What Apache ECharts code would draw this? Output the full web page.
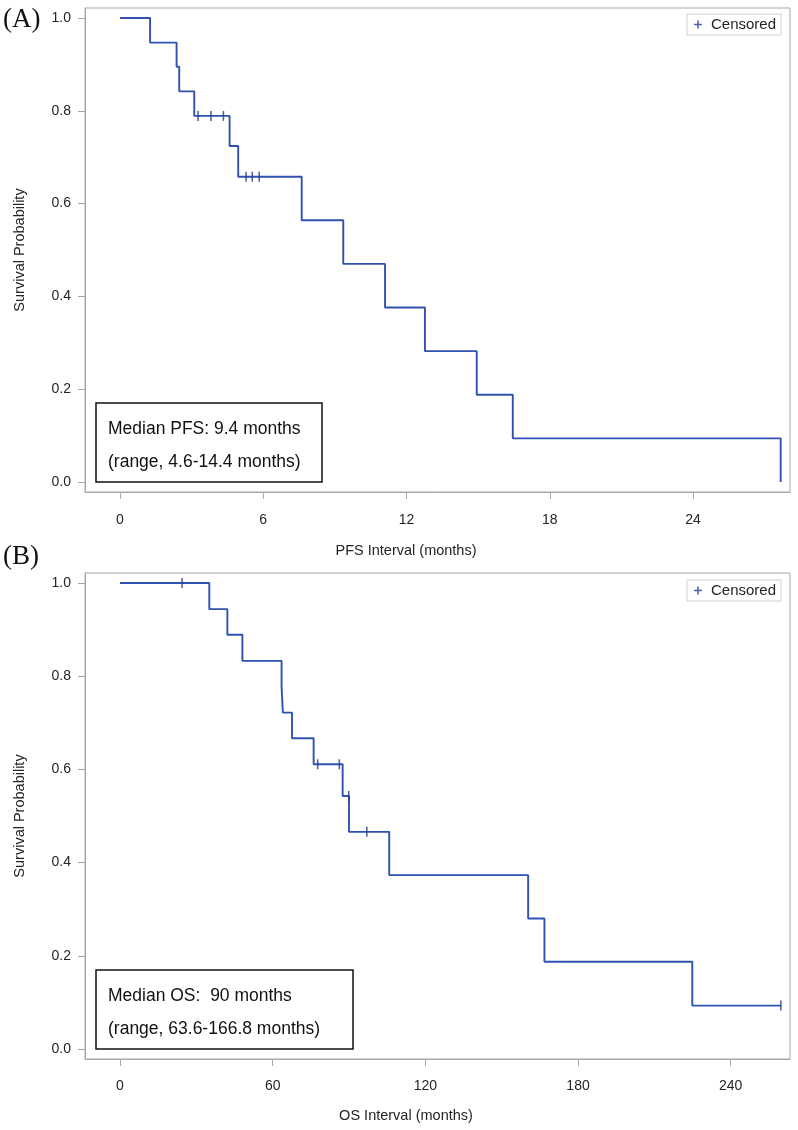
<!DOCTYPE html>
<html>
<head>
<meta charset="utf-8">
<script src="https://cdn.jsdelivr.net/npm/echarts@6/dist/echarts.min.js"></script>
<style>
html,body{margin:0;padding:0;background:#fff;}
#chart{width:798px;height:1130px;}
</style>
</head>
<body>
<div id="chart"></div>
<script>
// ---- Data ----
// Panel A: PFS
var pfsTimes = [0, 1.26, 2.37, 2.48, 3.11, 4.59, 4.95, 7.61, 9.35, 11.10, 12.77, 14.94, 16.45, 27.67];
var pfsSurv  = [1.0, 0.947, 0.895, 0.842, 0.789, 0.724, 0.658, 0.564, 0.470, 0.376, 0.282, 0.188, 0.094, 0.0];
var pfsCensorTimes = [3.27, 3.81, 4.33, 5.28, 5.54, 5.83];
var pfsCensorSurv  = [0.789, 0.789, 0.789, 0.658, 0.658, 0.658];
var pfsTicks = [0, 6, 12, 18, 24];

// Panel B: OS
var osTimes = [0, 35.1, 42.2, 48.1, 63.5, 64.0, 67.6, 76.1, 87.5, 90.0, 105.8, 160.4, 166.8, 224.9, 259.7];
var osSurv  = [1.0, 0.944, 0.889, 0.833, 0.778, 0.722, 0.667, 0.611, 0.543, 0.466, 0.373, 0.280, 0.187, 0.093, 0.093];
var osCensorTimes = [24.4, 77.7, 86.2, 89.9, 97.0, 259.7];
var osCensorSurv  = [1.0, 0.611, 0.611, 0.543, 0.466, 0.093];
var osTicks = [0, 60, 120, 180, 240];

var yTicks = [0, 0.2, 0.4, 0.6, 0.8, 1.0];

var pfsTitle = 'PFS Interval (months)';
var osTitle = 'OS Interval (months)';
var yTitle = 'Survival Probability';
var pfsNote = ['Median PFS: 9.4 months', '(range, 4.6-14.4 months)'];
var osNote = ['Median OS:  90 months', '(range, 63.6-166.8 months)'];
var legendName = 'Censored';

function pairs(xs, ys){ return xs.map(function(x,i){ return [x, ys[i]]; }); }

var LINE = '#2f51b1';
var CENS = '#22408f';
var FRAME = '#a9a9a9';
var TXT = '#252525';
var FONT = '"Liberation Sans", Arial, sans-serif';
var plusIcon = 'path://M4,0 H6 V4 H10 V6 H6 V10 H4 V6 H0 V4 H4 Z';

function xAxisCfg(grid, min, max, ticks, name, margin, gap){
  return {
    type:'value', gridIndex:grid, min:min, max:max,
    axisLine:{show:true, onZero:false, lineStyle:{color:FRAME, width:1}},
    axisTick:{show:true, inside:false, length:7, customValues:ticks, lineStyle:{color:FRAME}},
    axisLabel:{customValues:ticks, margin:margin, fontSize:14, color:TXT, fontFamily:FONT},
    splitLine:{show:false},
    name:name, nameLocation:'middle', nameGap:gap,
    nameTextStyle:{fontSize:14.5, color:TXT, fontFamily:FONT, padding:[0,63,0,0]}
  };
}
function yAxisCfg(grid){
  return {
    type:'value', gridIndex:grid, min:-0.0216, max:1.0216,
    axisLine:{show:true, onZero:false, lineStyle:{color:FRAME, width:1}},
    axisTick:{show:true, inside:false, length:7, customValues:yTicks, lineStyle:{color:FRAME}},
    axisLabel:{customValues:yTicks, margin:14, fontSize:14, color:TXT, fontFamily:FONT,
      formatter:function(v){ return v.toFixed(1); }},
    splitLine:{show:false},
    name:yTitle, nameLocation:'middle', nameGap:58, nameRotate:90,
    nameTextStyle:{fontSize:14.5, color:TXT, fontFamily:FONT}
  };
}

function noteBox(x, y, w, h, lines, y1, y2){
  return {
    type:'group', children:[
      {type:'rect', shape:{x:x, y:y, width:w, height:h}, style:{fill:'#fff', stroke:'#111', lineWidth:1.5}},
      {type:'text', x:108, y:y1, style:{text:lines[0], fontSize:17.5, fill:'#111', fontFamily:FONT, verticalAlign:'middle'}},
      {type:'text', x:108, y:y2, style:{text:lines[1], fontSize:17.5, fill:'#111', fontFamily:FONT, verticalAlign:'middle'}}
    ]
  };
}

var chart = echarts.init(document.getElementById('chart'), null, {renderer:'canvas'});
var option = {
  animation:false,
  backgroundColor:'#fff',
  grid:[
    {left:85, top:8, width:705, height:484, show:true, borderColor:FRAME, borderWidth:1, backgroundColor:'transparent'},
    {left:85, top:573, width:705, height:486, show:true, borderColor:FRAME, borderWidth:1, backgroundColor:'transparent'}
  ],
  xAxis:[
    xAxisCfg(0, -1.466, 28.06, pfsTicks, pfsTitle, 21, 51),
    xAxisCfg(1, -13.75, 263.3, osTicks, osTitle, 20, 49)
  ],
  yAxis:[ yAxisCfg(0), yAxisCfg(1) ],
  legend:[
    {data:[{name:legendName, icon:plusIcon}], left:687, top:14, orient:'horizontal',
     itemWidth:8, itemHeight:8, padding:[3,5,3,7], borderColor:'#cfcfcf', borderWidth:1,
     textStyle:{fontSize:15, color:TXT, fontFamily:FONT, padding:[0,0,0,4]}, selectedMode:false},
    {data:[{name:legendName, icon:plusIcon}], left:687, top:580, orient:'horizontal',
     itemWidth:8, itemHeight:8, padding:[3,5,3,7], borderColor:'#cfcfcf', borderWidth:1,
     textStyle:{fontSize:15, color:TXT, fontFamily:FONT, padding:[0,0,0,4]}, selectedMode:false}
  ],
  graphic:[
    {type:'text', left:3, top:6, style:{text:'(A)', fontSize:27, fill:'#111', fontFamily:'"Liberation Serif", "Times New Roman", serif'}},
    {type:'text', left:3, top:543, style:{text:'(B)', fontSize:27, fill:'#111', fontFamily:'"Liberation Serif", "Times New Roman", serif'}},
    noteBox(96, 403, 226, 79, pfsNote, 429, 462),
    noteBox(96, 970, 257, 79, osNote, 996, 1029)
  ],
  series:[
    {type:'line', name:'PFS', xAxisIndex:0, yAxisIndex:0, step:'end', showSymbol:false,
     data:pairs(pfsTimes, pfsSurv), lineStyle:{color:LINE, width:1.9}, itemStyle:{color:LINE}, z:3},
    {type:'scatter', name:legendName, xAxisIndex:0, yAxisIndex:0, symbol:'rect', symbolSize:[1.6,10],
     data:pairs(pfsCensorTimes, pfsCensorSurv), itemStyle:{color:CENS}, z:4},
    {type:'line', name:'OS', xAxisIndex:1, yAxisIndex:1, step:'end', showSymbol:false,
     data:pairs(osTimes, osSurv), lineStyle:{color:LINE, width:1.9}, itemStyle:{color:LINE}, z:3},
    {type:'scatter', name:legendName, xAxisIndex:1, yAxisIndex:1, symbol:'rect', symbolSize:[1.6,10],
     data:pairs(osCensorTimes, osCensorSurv), itemStyle:{color:CENS}, z:4}
  ]
};
chart.setOption(option);
</script>
</body>
</html>
